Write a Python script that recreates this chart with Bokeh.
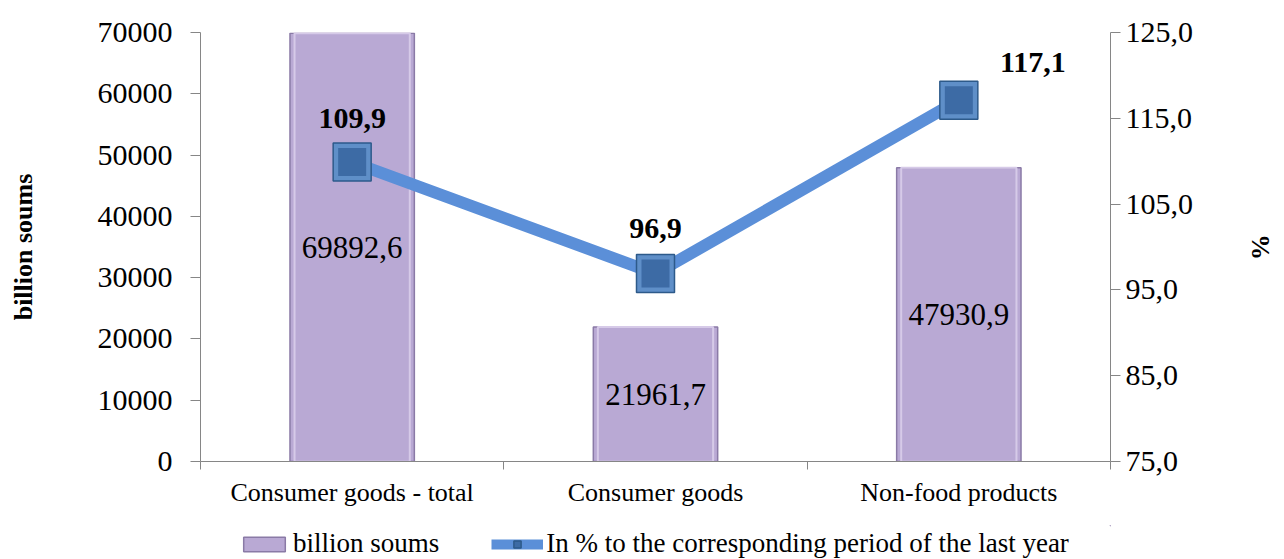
from bokeh.plotting import figure
from bokeh.layouts import column
from bokeh.models import (Range1d, LinearAxis, FixedTicker, ColumnDataSource,
                          Legend, LegendItem)
from bokeh.embed import file_html
from bokeh.resources import INLINE
from bokeh.core.properties import value

categories = ["Consumer goods - total", "Consumer goods", "Non-food products"]
billion_soums = [69892.6, 21961.7, 47930.9]
bar_labels = ["69892,6", "21961,7", "47930,9"]
pct_prev_year = [109.9, 96.9, 117.1]
pct_labels = ["109,9", "96,9", "117,1"]
left_ticks = [0, 10000, 20000, 30000, 40000, 50000, 60000, 70000]
right_ticks = [75, 85, 95, 105, 115, 125]
right_tick_labels = ["75,0", "85,0", "95,0", "105,0", "115,0", "125,0"]
series_names = ["billion soums", "In % to the corresponding period of the last year"]

FONT = "Liberation Serif"
BAR_FILL, BAR_LINE = "#b9a9d4", "#8a7aa6"
LINE_COL = "#5b8fd8"
MK_FILL, MK_LINE = "#5f8fc8", "#2d5a8a"
xs = [i + 0.5 for i in range(len(categories))]

src = ColumnDataSource(dict(
    x=xs, top=billion_soums, mid=[v / 2 for v in billion_soums], blab=bar_labels,
    pct=pct_prev_year, plab=pct_labels,
    xoff=[0, 0, 74], yoff=[-44, -45, -38],
))

p = figure(width=1280, height=525, output_backend="svg", toolbar_location=None,
           x_range=Range1d(0, 3), y_range=Range1d(0, 70000),
           min_border_left=200, min_border_right=170, min_border_top=32,
           min_border_bottom=64, x_axis_location=None, y_axis_location=None)
p.outline_line_color = None
p.grid.visible = False
p.background_fill_color = "white"
p.border_fill_color = "white"
p.extra_y_ranges = {"pct": Range1d(75, 125)}

# axes
xaxis = LinearAxis(ticker=FixedTicker(ticks=xs, minor_ticks=[0, 1, 2, 3]),
                   major_label_overrides={x: c for x, c in zip(xs, categories)})
xaxis.major_tick_out = 0
xaxis.major_tick_in = 0
xaxis.minor_tick_out = 8
xaxis.minor_tick_in = 0
xaxis.minor_tick_line_color = "#868686"
xaxis.axis_line_color = "#868686"
xaxis.major_label_text_font = FONT
xaxis.major_label_text_font_size = "26px"
xaxis.major_label_text_color = "black"
xaxis.major_label_standoff = 8
p.add_layout(xaxis, "below")

yaxis = LinearAxis(ticker=FixedTicker(ticks=left_ticks),
                   axis_label="billion soums")
yaxis.major_tick_out = 10
yaxis.major_tick_in = 0
yaxis.minor_tick_out = 0
yaxis.minor_tick_in = 0
yaxis.axis_line_color = "#868686"
yaxis.major_tick_line_color = "#868686"
yaxis.major_label_text_font = FONT
yaxis.major_label_text_font_size = "30px"
yaxis.major_label_text_color = "black"
yaxis.major_label_standoff = 18
yaxis.axis_label_text_font = FONT
yaxis.axis_label_text_font_size = "26px"
yaxis.axis_label_text_font_style = "bold"
yaxis.axis_label_text_color = "black"
yaxis.axis_label_standoff = 57
p.add_layout(yaxis, "left")

raxis = LinearAxis(y_range_name="pct", ticker=FixedTicker(ticks=right_ticks),
                   major_label_overrides={t: l for t, l in zip(right_ticks, right_tick_labels)},
                   axis_label="%")
raxis.major_tick_out = 10
raxis.major_tick_in = 0
raxis.minor_tick_out = 0
raxis.minor_tick_in = 0
raxis.axis_line_color = "#868686"
raxis.major_tick_line_color = "#868686"
raxis.major_label_text_font = FONT
raxis.major_label_text_font_size = "30px"
raxis.major_label_text_color = "black"
raxis.major_label_standoff = 5
raxis.axis_label_text_font = FONT
raxis.axis_label_text_font_size = "26px"
raxis.axis_label_text_font_style = "bold"
raxis.axis_label_text_color = "black"
raxis.axis_label_standoff = 50
p.add_layout(raxis, "right")

# bars
p.vbar(x="x", top="top", bottom=0, width=0.41, source=src,
       fill_color=BAR_FILL, line_color=BAR_LINE, line_width=1.5)
# bevel highlight
p.vbar(x="x", top="top", bottom=0, width=0.38, source=src,
       fill_color=None, line_color="#d6cae8", line_width=2)

p.text(x="x", y="mid", text="blab", source=src, text_font=value(FONT),
       text_font_size="31px", text_align="center", text_baseline="middle",
       text_color="black")

# line + markers
p.line(x="x", y="pct", source=src, y_range_name="pct",
       line_color=LINE_COL, line_width=12)
p.scatter(x="x", y="pct", source=src, y_range_name="pct", marker="square",
          size=38, fill_color=MK_FILL, line_color=MK_LINE, line_width=1.5)
p.scatter(x="x", y="pct", source=src, y_range_name="pct", marker="square",
          size=28, fill_color="#3d6ba5", line_color=None)

p.text(x="x", y="pct", text="plab", source=src, y_range_name="pct",
       x_offset="xoff", y_offset="yoff",
       text_font=value(FONT), text_font_size="30px", text_font_style="bold",
       text_align="center", text_baseline="middle", text_color="black")

# legend strip (its series renderers fall outside its view range; only the legend shows)
lg = figure(width=1280, height=34, output_backend="svg", toolbar_location=None,
            x_range=Range1d(-2, -1), y_range=Range1d(-2, -1),
            min_border_left=200, min_border_right=170, min_border_top=0,
            min_border_bottom=0, x_axis_location=None, y_axis_location=None)
lg.outline_line_color = None
lg.grid.visible = False
r_bar = lg.vbar(x="x", top="top", bottom=0, width=0.41, source=src,
                fill_color=BAR_FILL, line_color=BAR_LINE, line_width=1.5)
r_ln = lg.line(x="x", y="pct", source=src, line_color=LINE_COL, line_width=10)
r_mk = lg.scatter(x="x", y="pct", source=src, marker="square", size=22,
                  fill_color="#3d6ba5", line_color=MK_LINE, line_width=1.5)

legend = Legend(items=[LegendItem(label=series_names[0], renderers=[r_bar]),
                       LegendItem(label=series_names[1], renderers=[r_ln, r_mk])],
                orientation="horizontal", location=(38, 0),
                label_text_font=FONT, label_text_font_size="27px",
                label_text_color="black", glyph_width=52, glyph_height=18,
                spacing=52, padding=0, margin=0, border_line_color=None,
                background_fill_alpha=0, label_standoff=3)
lg.add_layout(legend, "center")

open("out.html", "w").write(file_html(column(p, lg, spacing=0), INLINE))
